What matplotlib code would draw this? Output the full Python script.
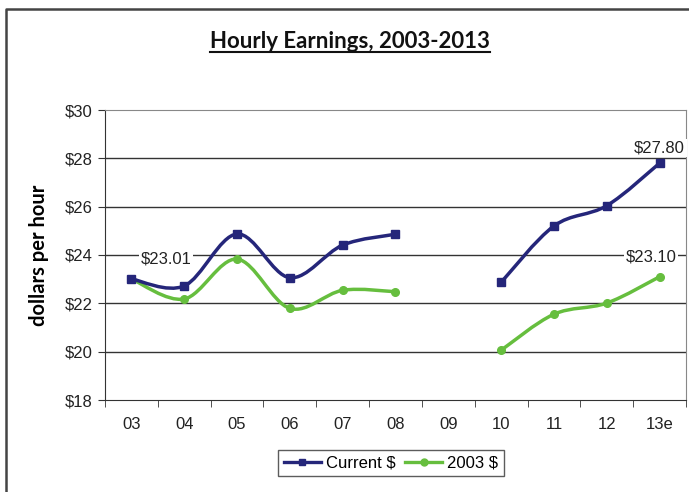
import numpy as np
import matplotlib
matplotlib.use('Agg')
import matplotlib.pyplot as plt
from matplotlib.path import Path
from matplotlib.patches import PathPatch
from matplotlib.lines import Line2D

# category labels and series (nan = no data for 09)
years = ['03', '04', '05', '06', '07', '08', '09', '10', '11', '12', '13e']
current = [23.01, 22.72, 24.87, 23.06, 24.41, 24.86, np.nan, 22.87, 25.20, 26.04, 27.80]
real2003 = [23.01, 22.18, 23.83, 21.79, 22.54, 22.48, np.nan, 20.06, 21.55, 22.01, 23.10]
yTicks = [18, 20, 22, 24, 26, 28, 30]

navy = '#25267A'
green = '#66BE3E'
plt.rcParams['font.family'] = ['Liberation Sans', 'DejaVu Sans']

'''
Excel-style smoothed line: Catmull-Rom segments drawn as cubic Bezier paths
'''
def smoothPath(xs, ys):
    verts, codes = [], []
    pts = np.column_stack([xs, ys])
    n = len(pts)
    for i in range(n):
        if i == 0:
            verts.append(pts[0]); codes.append(Path.MOVETO)
        if i == n - 1:
            break
        p0 = pts[max(i - 1, 0)]
        p1 = pts[i]
        p2 = pts[i + 1]
        p3 = pts[min(i + 2, n - 1)]
        c1 = p1 + (p2 - p0) / 6.0
        c2 = p2 - (p3 - p1) / 6.0
        verts += [c1, c2, p2]
        codes += [Path.CURVE4] * 3
    return Path(verts, codes)

def drawSeries(ax, vals, color, marker):
    vals = np.array(vals, dtype=float)
    xs = np.arange(len(vals))
    ok = ~np.isnan(vals)
    # split into runs of valid points
    runs, cur = [], []
    for i in xs:
        if ok[i]:
            cur.append(i)
        elif cur:
            runs.append(cur); cur = []
    if cur:
        runs.append(cur)
    for r in runs:
        path = smoothPath(xs[r], vals[r])
        ax.add_patch(PathPatch(path, fill=False, edgecolor=color, lw=2.5,
                               transform=ax.transData, zorder=3, capstyle='round'))
    ax.plot(xs[ok], vals[ok], linestyle='none', marker=marker, ms=5.5,
            color=color, zorder=4)

fig = plt.figure(figsize=(6.89, 4.92), dpi=100)
ax = fig.add_axes([105/689, 1 - 400/492, 581/689, 290/492])

drawSeries(ax, real2003, green, 'o')
drawSeries(ax, current, navy, 's')

ax.set_xlim(-0.5, len(years) - 0.5)
ax.set_ylim(18, 30)
ax.set_yticks(yTicks)
ax.set_yticklabels([f'${t}' for t in yTicks], fontsize=12, color='#222222')
ax.set_xticks(np.arange(len(years)))
ax.set_xticklabels(years, fontsize=12, color='#222222')
ax.set_xticks(np.arange(len(years) + 1) - 0.5, minor=True)
ax.tick_params(axis='x', which='major', length=0, pad=12)
ax.tick_params(axis='x', which='minor', length=5, direction='out', color='#333333')
ax.tick_params(axis='y', length=5, direction='out', color='#333333', pad=4)

for y in yTicks[1:-1]:
    ax.axhline(y, color='#333333', lw=1.0, zorder=1)
ax.spines['left'].set_color('#333333')
ax.spines['bottom'].set_color('#333333')
ax.spines['top'].set_color('#888888')
ax.spines['right'].set_color('#888888')

ax.set_ylabel('dollars per hour', fontsize=14.5, fontweight='bold',
              family=['Lato', 'DejaVu Sans'], labelpad=11)

# value labels
lbl = dict(textcoords='offset points', fontsize=12, color='#222222', ha='center', va='center',
           bbox=dict(boxstyle='square,pad=0.1', fc='white', ec='none'), zorder=5)
ax.annotate(f'${current[0]:.2f}', (0, current[0]), xytext=(25, 14), **lbl)
ax.annotate(f'${current[-1]:.2f}', (len(years) - 1, current[-1]), xytext=(0, 11), **lbl)
ax.annotate(f'${real2003[-1]:.2f}', (len(years) - 1, real2003[-1]), xytext=(-6, 14), **lbl)

# title with underline
title = fig.text(350/689, 1 - 42/492, 'Hourly Earnings, 2003-2013', ha='center', va='center',
                 fontsize=16, fontweight='bold', family=['Lato', 'DejaVu Sans'], color='#111111')
fig.canvas.draw()
bb = title.get_window_extent().transformed(fig.transFigure.inverted())
fig.add_artist(Line2D([bb.x0, bb.x1], [bb.y0 + 0.002, bb.y0 + 0.002],
                      transform=fig.transFigure, color='#111111', lw=1.5))

# outer chart border (left and top visible)
fig.add_artist(Line2D([6/689, 6/689, 1.0], [0.0, 1 - 9/492, 1 - 9/492],
                      transform=fig.transFigure, color='#444444', lw=1.8))

handles = [Line2D([], [], color=navy, lw=2.4, marker='s', ms=5),
           Line2D([], [], color=green, lw=2.4, marker='o', ms=5)]
fig.legend(handles, ['Current $', '2003 $'], loc='center', bbox_to_anchor=(391/689, 1 - 463/492),
           ncol=2, fontsize=12, frameon=True, fancybox=False, edgecolor='#333333',
           handlelength=2.2, handletextpad=0.3, columnspacing=0.6, borderpad=0.35)

fig.savefig('out.png', dpi=100)
